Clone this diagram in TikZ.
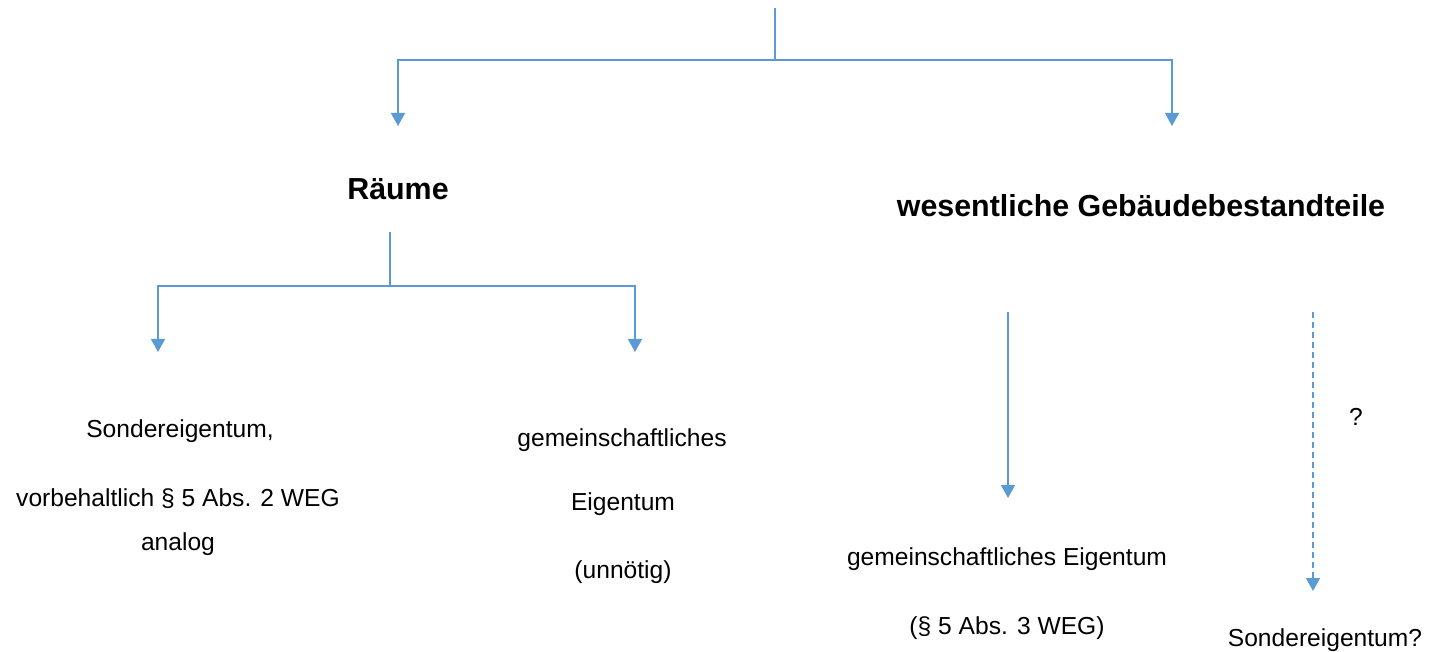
\documentclass[tikz,border=0pt]{standalone}
\usepackage{fontspec}
\setmainfont{Liberation Sans}
\usetikzlibrary{arrows.meta}
\definecolor{linkblue}{HTML}{5B9BD5}
\tikzset{
  conn/.style={draw=linkblue, line width=1.5pt},
  arr/.style={conn, -{Triangle[width=14pt,length=13pt]}},
  dasharr/.style={arr, dash pattern=on 6pt off 4pt},
  lbl/.style={anchor=base, inner sep=0pt, font=\fontsize{24.6}{29}\selectfont},
  head/.style={anchor=base, inner sep=0pt, font=\fontsize{30.4}{36}\selectfont\bfseries},
}
\begin{document}
\begin{tikzpicture}[x=1pt,y=-1pt]
\useasboundingbox (0,0) rectangle (1430,652);
% coordinates
\coordinate (t0) at (775,8);
\coordinate (t1) at (775,60);
\coordinate (tl) at (398,60);
\coordinate (tr) at (1172,60);
\coordinate (tle) at (398,126);
\coordinate (tre) at (1172,126);
\coordinate (r0) at (390,232);
\coordinate (r1) at (390,286);
\coordinate (rl) at (158,286);
\coordinate (rr) at (635,286);
\coordinate (rle) at (158,352);
\coordinate (rre) at (635,352);
\coordinate (w1) at (1008,312);
\coordinate (w1e) at (1008,498);
\coordinate (w2) at (1313,312);
\coordinate (w2e) at (1313,591);
% texts
\node[head] (raeume) at (398,200) {Räume};
\node[head] (wes) at (1141,217) {wesentliche Gebäudebestandteile};
\node[lbl] (se1) at (180,437) {Sondereigentum,};
\node[lbl] (se2) at (178,506) {vorbehaltlich § 5 Abs. 2 WEG};
\node[lbl] (se3) at (178,550) {analog};
\node[lbl] (ge1) at (622,446) {gemeinschaftliches};
\node[lbl] (ge2) at (623,510) {Eigentum};
\node[lbl] (ge3) at (623,578) {(unnötig)};
\node[lbl] (gw1) at (1007,565) {gemeinschaftliches Eigentum};
\node[lbl] (gw2) at (1007,634) {(§ 5 Abs. 3 WEG)};
\node[lbl] (sw) at (1325,646) {Sondereigentum?};
\node[lbl] (q) at (1356,425) {?};
% connectors
\draw[conn] (t0) -- (t1);
\draw[arr] (t1) -- (tl) -- (tle);
\draw[arr] (t1) -- (tr) -- (tre);
\draw[conn] (r0) -- (r1);
\draw[arr] (r1) -- (rl) -- (rle);
\draw[arr] (r1) -- (rr) -- (rre);
\draw[arr] (w1) -- (w1e);
\draw[dasharr] (w2) -- (w2e);
\end{tikzpicture}
\end{document}
